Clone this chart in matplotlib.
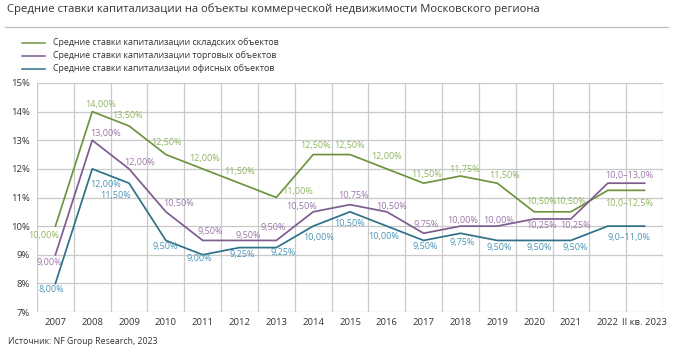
import matplotlib
matplotlib.use("Agg")
import matplotlib.pyplot as plt
from matplotlib.lines import Line2D

plt.rcParams['font.family'] = ['Open Sans', 'DejaVu Sans']

categories = ["2007", "2008", "2009", "2010", "2011", "2012", "2013", "2014",
              "2015", "2016", "2017", "2018", "2019", "2020", "2021", "2022",
              "II кв. 2023"]
warehouse = [10.00, 14.00, 13.50, 12.50, 12.00, 11.50, 11.00, 12.50, 12.50,
             12.00, 11.50, 11.75, 11.50, 10.50, 10.50, 11.25, 11.25]
retail = [9.00, 13.00, 12.00, 10.50, 9.50, 9.50, 9.50, 10.50, 10.75,
          10.50, 9.75, 10.00, 10.00, 10.25, 10.25, 11.50, 11.50]
office = [8.00, 12.00, 11.50, 9.50, 9.00, 9.25, 9.25, 10.00, 10.50,
          10.00, 9.50, 9.75, 9.50, 9.50, 9.50, 10.00, 10.00]
range_labels = {"warehouse": "10,0–12,5%", "retail": "10,0–13,0%", "office": "9,0–11,0%"}
series_names = ["Средние ставки капитализации складских объектов",
                "Средние ставки капитализации торговых объектов",
                "Средние ставки капитализации офисных объектов"]
y_ticks = [7, 8, 9, 10, 11, 12, 13, 14, 15]

# label offsets in pixels (dx right, dy down) relative to each point
off_w = [(-12, 9.5), (8, -7), (-1.5, -10), (1, -12), (1.5, -10), (0, -12), (21, -6),
         (2, -9), (-1, -9), (0, -12), (3, -9), (4, -7), (7.5, -8), (7, -10), (0, -10),
         None, (-15, 13.5)]
off_r = [(-6.5, 8), (13, -7), (10.5, -6), (13, -8), (8, -9), (9, -4.5), (-3, -13),
         (-12, -5), (3.5, -9), (4.5, -5), (2.5, -9), (2, -5.5), (1, -5.5), (7, 6.5),
         (5, 6.5), None, (-15, -8)]
off_o = [(-4, 6), (13, 16), (-13.5, 12), (-1, 6), (-3, 4), (2.5, 6.5), (6.5, 5),
         (5, 11.5), (0, 12), (-3, 10), (1.5, 6), (2, 9), (2, 7), (5, 7), (4, 7),
         None, (-16, 11.5)]

W, H = 673, 354
fig = plt.figure(figsize=(W / 100, H / 100), dpi=100)
fig.patch.set_facecolor("white")

def fx(x):
    return x / W

def fy(y):
    return 1 - y / H

ax = fig.add_axes([fx(37), fy(312), fx(663) - fx(37), fy(83) - fy(312)])
n = len(categories)
xs = list(range(n))
ax.set_xlim(-0.5, n - 0.5)
ax.set_ylim(7, 15)
ax.set_yticks(y_ticks)
ax.set_yticklabels([f"{t}%" for t in y_ticks])
ax.set_xticks(xs)
ax.set_xticklabels(categories)
ax.tick_params(axis='both', length=0, labelsize=6.8, colors="#333333")
ax.tick_params(axis='x', pad=4)
ax.tick_params(axis='y', pad=5)
for t in y_ticks:
    ax.axhline(t, color="#c9c9c9", lw=0.9, zorder=0)
for i in range(n + 1):
    ax.axvline(i - 0.5, color="#c9c9c9", lw=0.9, zorder=0)
for s in ax.spines.values():
    s.set_visible(False)

specs = [
    (warehouse, "#6e9440", "#8db55f", off_w, range_labels["warehouse"]),
    (retail, "#7e5c8e", "#9d75aa", off_r, range_labels["retail"]),
    (office, "#2e7189", "#4896b6", off_o, range_labels["office"]),
]
for vals, lc, tc, offs, rl in specs:
    ax.plot(xs, vals, color=lc, lw=1.25, zorder=3)
    for i, v in enumerate(vals):
        if offs[i] is None:
            continue
        txt = rl if i == n - 1 else f"{v:.2f}%".replace(".", ",")
        dx, dy = offs[i]
        ax.annotate(txt, (i, v), xytext=(dx, -dy), textcoords="offset pixels",
                    ha="center", va="center", fontsize=6.5, color=tc, zorder=4)

# title and separator
fig.text(fx(7), fy(9), "Средние ставки капитализации на объекты коммерческой недвижимости Московского региона",
         fontsize=8.1, color="#333333", ha="left", va="center")
fig.add_artist(Line2D([fx(5), fx(668)], [fy(27), fy(27)], color="#bdbdbd", lw=0.9))

# legend
leg_y = [42.7, 55.7, 68.7]
for (vals, lc, tc, offs, rl), name, ly in zip(specs, series_names, leg_y):
    fig.add_artist(Line2D([fx(21.5), fx(45)], [fy(ly), fy(ly)], color=lc, lw=1.1))
    fig.text(fx(53), fy(ly), name, fontsize=6.4, color="#333333", ha="left", va="center")

fig.text(fx(8), fy(342), "Источник: NF Group Research, 2023", fontsize=6.3,
         color="#333333", ha="left", va="center")

fig.savefig("out.png", dpi=100)
